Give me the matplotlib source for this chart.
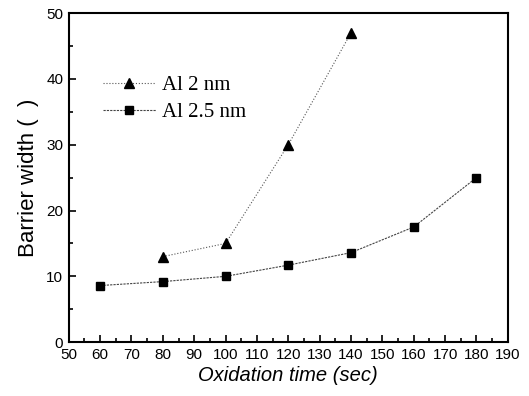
import matplotlib
matplotlib.use("Agg")
import matplotlib.pyplot as plt
import numpy as np
from matplotlib.ticker import MultipleLocator

x_2nm = [80, 100, 120, 140]
y_2nm = [13.0, 15.0, 30.0, 47.0]
x_25nm = [60, 80, 100, 120, 140, 160, 180]
y_25nm = [8.6, 9.2, 10.0, 11.7, 13.6, 17.5, 25.0]

fig = plt.figure(figsize=(5.29, 3.96), dpi=100)
ax = fig.add_axes([0.130, 0.136, 0.830, 0.831])

ax.plot(x_2nm, y_2nm, color='#555555', linestyle=':', linewidth=0.8,
        marker='^', markersize=6.5, markerfacecolor='black', markeredgecolor='black',
        label='Al 2 nm')
ax.plot(x_25nm, y_25nm, color='#444444', linestyle=(0, (2, 1)), linewidth=0.8,
        marker='s', markersize=5.5, markerfacecolor='black', markeredgecolor='black',
        label='Al 2.5 nm')

ax.set_xlim(50, 190)
ax.set_ylim(0, 50)
ax.xaxis.set_major_locator(MultipleLocator(10))
ax.xaxis.set_minor_locator(MultipleLocator(5))
ax.yaxis.set_major_locator(MultipleLocator(10))
ax.yaxis.set_minor_locator(MultipleLocator(5))
ax.tick_params(which='both', direction='in', top=False, right=False, width=1.2)
ax.tick_params(which='major', length=5, pad=4)
ax.tick_params(which='minor', length=3)
for lab in ax.get_xticklabels() + ax.get_yticklabels():
    lab.set_fontfamily('Liberation Sans')
    lab.set_fontsize(11)
for s in ax.spines.values():
    s.set_linewidth(1.5)

ax.set_xlabel('Oxidation time (sec)', fontfamily='Liberation Sans', fontstyle='italic', fontsize=14.5, labelpad=3)
ax.set_ylabel('Barrier width (  )', fontfamily='Liberation Sans', fontsize=16, labelpad=5)

leg = ax.legend(loc='upper left', bbox_to_anchor=(0.06, 0.835), frameon=False,
                prop={'family': 'Liberation Serif', 'size': 15}, handlelength=2.5,
                handletextpad=0.3, labelspacing=0.35, borderaxespad=0)

fig.savefig('out.png', dpi=100)
